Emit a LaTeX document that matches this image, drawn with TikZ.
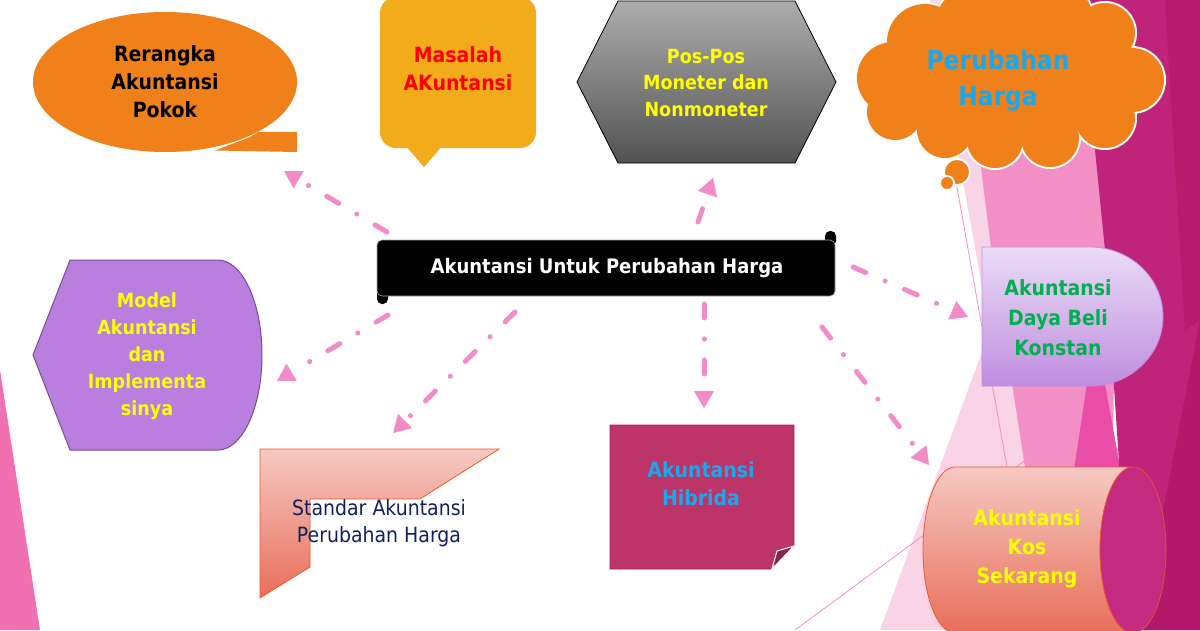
\documentclass[tikz,border=0pt]{standalone}
\usepackage{fontspec}
\setmainfont{DejaVu Sans}[FakeStretch=0.9]
\usetikzlibrary{arrows.meta}
\definecolor{bgA}{HTML}{F9D3E6}
\definecolor{bgB}{HTML}{F290C6}
\definecolor{bgC}{HTML}{EA4DA5}
\definecolor{bgD}{HTML}{C0247A}
\definecolor{bgE}{HTML}{B3186B}
\definecolor{bgG}{HTML}{F070B2}
\definecolor{arrowpink}{HTML}{F28CC8}
\definecolor{orangeA}{HTML}{F0801A}
\definecolor{gold}{HTML}{F2AB1B}
\definecolor{cyanT}{HTML}{1AA8EC}
\definecolor{greenT}{HTML}{00B050}
\definecolor{navyT}{HTML}{10225E}
\definecolor{yellowT}{HTML}{FFFF00}
\definecolor{purpA}{HTML}{B97EDE}
\definecolor{purpB}{HTML}{7A4C96}
\definecolor{roseA}{HTML}{BD3469}
\definecolor{roseB}{HTML}{B3145F}
\definecolor{salmonTop}{HTML}{F6C9C2}
\definecolor{salmonBot}{HTML}{E86E5A}
\definecolor{salmonLine}{HTML}{EC5A2A}
\definecolor{lavTop}{HTML}{EADCF6}
\definecolor{lavBot}{HTML}{BF8EE0}
\definecolor{capMag}{HTML}{C42A80}
\definecolor{hexTop}{HTML}{ADADAD}
\definecolor{hexBot}{HTML}{525252}
\tikzset{
  conn/.style={draw=arrowpink, line width=5pt, line cap=round,
    dash pattern=on 14pt off 21pt on 0.1pt off 21pt,
    -{Triangle[length=17pt,width=20pt,line width=0.1pt,fill=arrowpink]}},
  lbl/.style={align=center, inner sep=0pt, font=\bfseries\fontsize{21}{28}\selectfont},
}
\begin{document}
\begin{tikzpicture}[x=1pt,y=-1pt]
\path[use as bounding box] (0,0) rectangle (1200,630);
\clip (0,0) rectangle (1200,630);
% background decoration
\fill[bgA] (930,0) -- (1060,0) -- (1060,630) -- (880,630) -- (990,330) -- cycle;
\fill[bgB] (960,0) -- (1120,0) -- (1110,630) -- (1050,630) -- (990,240) -- cycle;
\fill[bgC] (1095,330) -- (1150,630) -- (1050,630) -- cycle;
\fill[bgD] (1080,0) -- (1200,0) -- (1200,630) -- (1130,630) -- (1105,250) -- cycle;
\fill[bgE] (1200,320) -- (1200,630) -- (1140,630) -- cycle;
\fill[bgE!80!bgD] (1165,0) -- (1200,0) -- (1200,320) -- (1185,330) -- cycle;
\fill[bgG] (0,370) -- (40,630) -- (0,630) -- cycle;
\draw[bgB, line width=0.8pt] (945,120) -- (1020,540);
\draw[bgB, line width=0.8pt] (795,630) -- (1080,420);

% Rerangka callout
\fill[orangeA] (165,82) ellipse[x radius=132, y radius=70];
\fill[orangeA] (250,137) -- (258,132) -- (297,132) -- (297,152) -- (215,150.5) -- cycle;
\node[lbl, text=black] (rer) at (165,82) {Rerangka\\Akuntansi\\Pokok};

% Masalah callout
\fill[gold, rounded corners=16pt] (380,-3) rectangle (536,148);
\fill[gold] (405,145) -- (443,145) -- (424,167) -- cycle;
\node[lbl, text=red] (mas) at (458,69) {Masalah\\AKuntansi};

% Pos-Pos hexagon
\path[draw=black, line width=0.8pt, top color=hexTop, bottom color=hexBot]
  (577,82) -- (618,1) -- (795,1) -- (836,82) -- (795,163) -- (618,163) -- cycle;
\node[lbl, text=yellowT, font=\bfseries\fontsize{19.5}{26.5}\selectfont] (pos) at (706,83) {Pos-Pos\\Moneter dan\\Nonmoneter};

% Cloud
\foreach \cx/\cy/\r in {893/78/36, 925/42/38, 968/22/32, 1015/14/32, 1062/16/30, 1105/33/30, 1132/80/32, 1105/118/30, 1050/138/29, 995/140/28, 945/130/28, 895/112/28}
  \draw[white, line width=4pt] (\cx,\cy) circle[radius=\r];
\foreach \cx/\cy/\r in {893/78/36, 925/42/38, 968/22/32, 1015/14/32, 1062/16/30, 1105/33/30, 1132/80/32, 1105/118/30, 1050/138/29, 995/140/28, 945/130/28, 895/112/28}
  \fill[orangeA] (\cx,\cy) circle[radius=\r];
\fill[orangeA] (1010,80) ellipse[x radius=110, y radius=60];
\draw[white, line width=1.8pt, fill=orangeA] (957,172) circle[radius=13];
\draw[white, line width=1.8pt, fill=orangeA] (947,183) circle[radius=7];
\node[lbl, text=cyanT, font=\bfseries\fontsize{26}{36}\selectfont] (cloud) at (998,80) {Perubahan\\Harga};

% Central scroll
\fill[black, rounded corners=5pt] (825,231) rectangle (836,246);
\fill[black, rounded corners=5pt] (377,288) rectangle (388,304);
\path[fill=black, draw=gray!70, line width=0.6pt, rounded corners=5pt] (377,240) rectangle (835,296);
\node[lbl, text=white, font=\bfseries\fontsize{20}{24}\selectfont] (cen) at (607,268) {Akuntansi Untuk Perubahan Harga};

% Model display shape
\path[fill=purpA, draw=purpB, line width=1pt]
  (70,260) -- (218,260) arc[start angle=-90, end angle=90, x radius=44, y radius=95]
  -- (70,450) -- (33,355) -- cycle;
\node[lbl, text=yellowT, font=\bfseries\fontsize{19.5}{27}\selectfont] (mod) at (147,356) {Model\\Akuntansi\\dan\\Implementa\\sinya};

% Standar half frame
\path[draw=salmonLine, line width=0.8pt, top color=salmonTop, bottom color=salmonBot]
  (260,449) -- (499,449) -- (420,499) -- (310,499) -- (310,567) -- (260,598) -- cycle;
\node[lbl, text=navyT, font=\fontsize{21}{27}\selectfont] (std) at (379,523) {Standar Akuntansi\\Perubahan Harga};

% Hibrida folded corner
\path[fill=roseA, draw=roseB, line width=0.8pt]
  (610,425) -- (794,425) -- (794,546) -- (772,569) -- (610,569) -- cycle;
\path[fill=roseA!70!black, draw=white, line width=1pt] (794,546) -- (777,551) -- (772,569) -- cycle;
\node[lbl, text=cyanT] (hib) at (701,484) {Akuntansi\\Hibrida};

% Daya Beli delay shape
\path[draw=lavBot, line width=0.8pt, top color=lavTop, bottom color=lavBot]
  (982,247) -- (1090,247) arc[start angle=-90, end angle=90, x radius=73, y radius=69.5]
  -- (982,386) -- cycle;
\node[lbl, text=greenT, font=\bfseries\fontsize{21}{30}\selectfont] (dbk) at (1058,318) {Akuntansi\\Daya Beli\\Konstan};

% Kos cylinder
\path[draw=salmonLine, line width=0.8pt, top color=salmonTop, bottom color=salmonBot]
  (955,467) -- (1133,467) arc[start angle=-90, end angle=-270, x radius=33, y radius=83]
  -- (955,633) arc[start angle=90, end angle=270, x radius=32, y radius=83] -- cycle;
\path[fill=capMag, draw=salmonLine, line width=0.6pt] (1133,550) ellipse[x radius=33, y radius=83];
\node[lbl, text=yellowT, font=\bfseries\fontsize{21}{29}\selectfont] (kos) at (1027,549) {Akuntansi\\Kos\\Sekarang};

% connectors
\coordinate (s1) at (387,232); \coordinate (e1) at (284,171);
\coordinate (s2) at (388,315); \coordinate (e2) at (277,381);
\coordinate (s3) at (515,312); \coordinate (e3) at (393,433);
\coordinate (s4) at (698,222); \coordinate (e4) at (713,178);
\coordinate (s5) at (704,304); \coordinate (e5) at (704,408);
\coordinate (s6) at (853,267); \coordinate (e6) at (968,317);
\coordinate (s7) at (822,327); \coordinate (e7) at (929,465);
\draw[conn] (s1) -- (e1);
\draw[conn] (s2) -- (e2);
\draw[conn] (s3) -- (e3);
\draw[conn] (s4) -- (e4);
\draw[conn] (s5) -- (e5);
\draw[conn] (s6) -- (e6);
\draw[conn] (s7) -- (e7);
\end{tikzpicture}
\end{document}
